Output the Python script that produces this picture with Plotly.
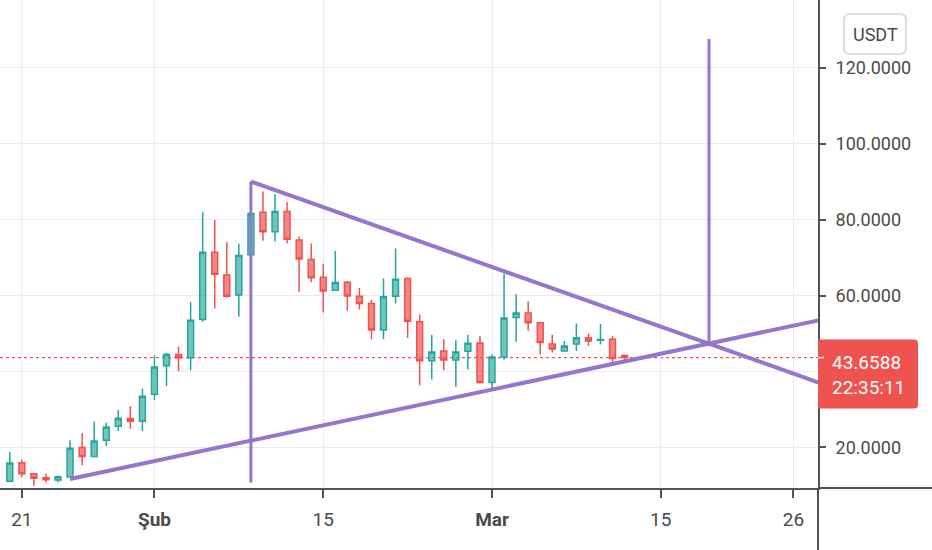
import pandas as pd
import plotly.graph_objects as go

# daily candles, Jan 20 - Mar 12
dates = pd.date_range("2021-01-20", "2021-03-12", freq="D")
opens = [11.1, 16.0, 13.1, 12.0, 11.4, 12.2, 20.0, 17.6, 21.9, 25.6, 27.6, 26.9,
         34.0, 41.5, 44.5, 43.6, 53.7, 71.4, 65.4, 60.1, 70.7, 81.9, 76.8, 82.1,
         74.6, 69.5, 64.8, 61.4, 63.5, 59.8, 57.9, 50.9, 59.8, 64.5, 53.1, 42.8,
         45.4, 43.0, 45.3, 47.5,
         37.1, 43.8, 54.2, 55.4, 52.8, 47.2, 45.4, 47.2, 48.9, 48.2, 48.5, 44.2]
highs = [18.8, 16.8, 13.2, 13.1, 12.6, 21.9, 23.8, 26.8, 26.5, 29.9, 30.9, 35.5,
         44.3, 44.9, 46.6, 58.3, 81.9, 79.9, 74.0, 73.6, 82.0, 87.4, 86.7, 84.6,
         75.5, 73.7, 68.3, 71.7, 63.8, 62.0, 58.8, 64.5, 72.4, 64.8, 55.0, 49.6,
         48.5, 48.2, 49.7, 49.4,
         44.5, 65.8, 60.3, 58.5, 53.1, 49.7, 48.0, 52.6, 50.0, 52.5, 49.3, 44.5]
lows = [11.0, 12.2, 9.9, 10.8, 10.8, 12.0, 15.3, 17.5, 20.4, 24.3, 24.9, 24.3,
        32.4, 36.1, 40.1, 40.3, 53.1, 56.6, 59.4, 54.4, 70.5, 74.4, 74.2, 73.7,
        61.0, 63.5, 55.5, 61.2, 56.0, 56.3, 48.5, 48.5, 57.9, 48.8, 36.3, 37.9,
        40.3, 35.9, 40.5, 36.8,
        35.5, 43.1, 47.8, 50.7, 44.5, 45.0, 45.3, 45.4, 46.7, 47.1, 42.5, 43.0]
closes = [15.9, 13.1, 11.9, 11.5, 12.3, 19.8, 17.6, 21.7, 25.4, 27.7, 26.9, 33.5,
          41.2, 44.5, 43.6, 53.5, 71.4, 65.6, 59.8, 70.5, 81.6, 76.8, 82.1, 74.8,
          69.6, 64.7, 61.2, 63.4, 59.9, 57.9, 50.9, 59.7, 64.3, 53.2, 42.8, 45.1,
          43.0, 45.1, 47.4, 37.1,
          43.8, 54.1, 55.4, 52.8, 47.6, 45.9, 46.7, 48.9, 48.0, 48.4, 43.4, 43.6588]
last_price = 43.6588
countdown = "22:35:11"

# drawn lines (triangle + measure lines)
upper_x = ["2021-02-09", "2021-04-01"]
upper_y = [90.0, 32.7]
lower_x = ["2021-01-25", "2021-04-01"]
lower_y = [11.7, 56.1]
left_vert_x = ["2021-02-09", "2021-02-09"]
left_vert_y = [10.8, 90.0]
right_vert_x = ["2021-03-19", "2021-03-19"]
right_vert_y = [47.3, 127.5]

tick_dates = ["2021-01-21", "2021-02-01", "2021-02-15", "2021-03-01", "2021-03-15", "2021-03-26"]
tick_text = ["21", "<b>Şub</b>", "15", "<b>Mar</b>", "15", "26"]
price_ticks = [20, 40, 60, 80, 100, 120]
# 40 sits under the last-price label, so its text is not shown
price_text = ["20.0000", "", "60.0000", "80.0000", "100.0000", "120.0000"]

UP, DOWN = "#26a69a", "#ef5350"
PURPLE = "#9575cd"
TXT = "#4a4a4a"
AX = "#50535e"
GRID = "#e8ebf0"
FONT = "Roboto"


def rounded_path(x0, x1, top, bottom, r_left, r_right):
    # pixel path, y up is positive
    p = f"M {x0 + r_left},{top} L {x1 - r_right},{top} "
    p += f"Q {x1},{top} {x1},{top - r_right} L {x1},{bottom + r_right} "
    p += f"Q {x1},{bottom} {x1 - r_right},{bottom} L {x0 + r_left},{bottom} "
    p += f"Q {x0},{bottom} {x0},{bottom + r_left} L {x0},{top - r_left} "
    p += f"Q {x0},{top} {x0 + r_left},{top} Z"
    return p


fig = go.Figure()

fig.add_trace(go.Candlestick(
    x=dates, open=opens, high=highs, low=lows, close=closes,
    increasing=dict(line=dict(color=UP, width=1.5), fillcolor="rgba(38,166,154,0.65)"),
    decreasing=dict(line=dict(color=DOWN, width=1.5), fillcolor="rgba(239,83,80,0.7)"),
    whiskerwidth=0, showlegend=False))

for xs, ys, w in [(upper_x, upper_y, 4), (lower_x, lower_y, 4),
                  (left_vert_x, left_vert_y, 3), (right_vert_x, right_vert_y, 3)]:
    fig.add_trace(go.Scatter(x=xs, y=ys, mode="lines", line=dict(color=PURPLE, width=w),
                             showlegend=False, hoverinfo="skip"))

# last price dotted line
fig.add_shape(type="line", xref="paper", x0=0, x1=1, yref="y", y0=last_price, y1=last_price,
              line=dict(color=DOWN, width=1.2, dash="dot"), layer="below")

# axis line extensions
fig.add_shape(type="line", xref="paper", xsizemode="pixel", xanchor=1, x0=0, x1=120,
              yref="paper", y0=0, y1=0, line=dict(color=AX, width=2))
fig.add_shape(type="line", xref="paper", x0=1, x1=1, yref="paper", ysizemode="pixel",
              yanchor=0, y0=0, y1=-70, line=dict(color=AX, width=2))

# price label box
fig.add_shape(type="path", xref="paper", xsizemode="pixel", xanchor=1,
              yref="y", ysizemode="pixel", yanchor=last_price,
              path=rounded_path(0, 100, 18, -51, 0, 4),
              fillcolor=DOWN, line=dict(width=0))
fig.add_shape(type="line", xref="paper", xsizemode="pixel", xanchor=1, x0=0, x1=6,
              yref="y", y0=last_price, y1=last_price, line=dict(color="white", width=1.5))
fig.add_annotation(x=1, xref="paper", xanchor="center", xshift=50, y=last_price, yref="y",
                   yanchor="middle", yshift=-17, text=f"{last_price:.4f}<br>{countdown}",
                   showarrow=False, align="left", borderpad=0,
                   font=dict(family=FONT, size=19, color="white"))

# currency badge
fig.add_shape(type="path", xref="paper", xsizemode="pixel", xanchor=1,
              yref="paper", ysizemode="pixel", yanchor=1,
              path=rounded_path(26, 88, -14, -54, 6, 6),
              fillcolor="white", line=dict(color="#d1d4dc", width=1.5))
fig.add_annotation(x=1, xref="paper", xanchor="center", xshift=57, y=1, yref="paper",
                   yanchor="middle", yshift=-34, text="USDT", showarrow=False,
                   font=dict(family=FONT, size=18, color=TXT))

fig.update_layout(
    width=932, height=550,
    margin=dict(l=0, r=114, t=0, b=62),
    paper_bgcolor="white", plot_bgcolor="white",
    font=dict(family=FONT, size=19, color=TXT),
    xaxis=dict(type="date", range=["2021-01-19 04:30", "2021-03-28 01:00"],
               tickvals=tick_dates, ticktext=tick_text,
               showgrid=True, gridcolor=GRID, gridwidth=1,
               showline=True, linecolor=AX, linewidth=2,
               ticks="outside", ticklen=8, tickcolor=AX, tickwidth=1.5,
               ticklabelstandoff=5, zeroline=False,
               rangeslider=dict(visible=False)),
    yaxis=dict(side="right", range=[9.32, 137.8],
               tickvals=price_ticks, ticktext=price_text,
               tickfont=dict(size=18),
               showgrid=True, gridcolor=GRID, gridwidth=1,
               showline=True, linecolor=AX, linewidth=2,
               ticks="outside", ticklen=6, tickcolor=AX, tickwidth=1.5,
               ticklabelstandoff=6, zeroline=False),
)

fig.write_html("out.html", config={"displayModeBar": False},
               post_script="document.body.style.margin='0';")
